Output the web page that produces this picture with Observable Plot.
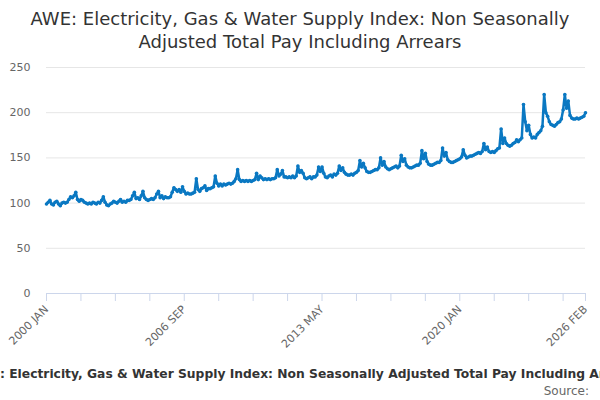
<!DOCTYPE html>
<html><head><meta charset="utf-8">
<script src="https://cdn.jsdelivr.net/npm/d3@7"></script>
<script src="https://cdn.jsdelivr.net/npm/@observablehq/plot@0.6"></script>
<style>
body{margin:0;width:600px;height:400px;overflow:hidden;font-family:"DejaVu Sans",sans-serif;background:#fff;position:relative}
#title{text-align:center;font-size:18px;color:#333;line-height:23px;padding-top:7px;height:43px}
#chart{height:322px}
#cap{position:absolute;left:0px;top:366px;width:800px;white-space:nowrap;font-size:12.3px;font-weight:bold;color:#333;line-height:16px}
#src{position:absolute;right:11px;top:384px;font-size:12px;color:#666;line-height:14px}
</style></head><body>
<div id="title">AWE: Electricity, Gas &amp; Water Supply Index: Non Seasonally<br>Adjusted Total Pay Including Arrears</div>
<div id="chart"></div>
<div id="cap">: Electricity, Gas &amp; Water Supply Index: Non Seasonally Adjusted Total Pay Including Arrears</div>
<div id="src">Source:</div>
<script>
const startYear = 2000;
const y2000 = [99,101,103,99,98,101,102,99,97,100,101,100];
const y2001 = [101,104,107,106,108,112,104,102,104,103,101,100];
const y2002 = [99,100,99,101,100,99,101,100,103,107,101,98];
const y2003 = [97,99,100,102,101,100,102,104,101,102,101,103];
const y2004 = [103,104,108,112,105,106,104,108,113,106,104,103];
const y2005 = [104,105,104,106,110,113,106,108,105,107,106,106];
const y2006 = [107,112,117,115,113,115,112,118,113,110,111,110];
const y2007 = [110,111,112,127,115,113,116,117,119,114,116,116];
const y2008 = [117,118,130,122,119,121,119,121,120,121,122,121];
const y2009 = [122,124,127,137,126,124,125,124,125,124,125,124];
const y2010 = [125,126,133,126,130,128,126,127,126,127,126,127];
const y2011 = [127,128,137,130,132,136,129,129,128,129,128,130];
const y2012 = [128,130,141,134,136,133,128,127,128,129,127,129];
const y2013 = [129,131,140,135,140,133,129,128,130,131,129,132];
const y2014 = [131,133,141,136,139,134,132,131,131,132,131,133];
const y2015 = [134,136,147,140,144,139,135,134,134,135,136,137];
const y2016 = [137,139,150,142,146,140,138,137,138,139,140,141];
const y2017 = [139,141,153,146,149,142,140,139,139,140,141,142];
const y2018 = [142,144,158,149,155,146,143,142,142,143,144,145];
const y2019 = [145,147,161,152,156,148,146,145,145,146,147,148];
const y2020 = [149,151,159,153,150,151,152,152,153,154,155,156];
const y2021 = [155,157,166,159,162,157,156,157,156,158,160,161];
const y2022 = [182,166,172,166,164,163,164,166,167,170,168,170];
const y2023 = [172,209,190,180,186,176,172,173,172,176,178,180];
const y2024 = [185,220,200,196,190,187,186,185,187,189,190,193];
const y2025 = [203,220,205,213,197,194,193,193,194,193,194,195];
const y2026 = [196,200];
const allYears = [y2000,y2001,y2002,y2003,y2004,y2005,y2006,y2007,y2008,y2009,y2010,y2011,y2012,y2013,y2014,y2015,y2016,y2017,y2018,y2019,y2020,y2021,y2022,y2023,y2024,y2025,y2026];
const months = ["JAN","FEB","MAR","APR","MAY","JUN","JUL","AUG","SEP","OCT","NOV","DEC"];
const data = allYears.flatMap((vals,yi)=>vals.map((v,mi)=>({i:yi*12+mi,v})));
const last = data.length-1;
const ticks = d3.range(0,last,20).concat([last]);
const labelled = new Set([0,80,160,240,last]);
const fmt = i => labelled.has(i) ? `${startYear+Math.floor(i/12)} ${months[i%12]}` : "";
const chart = Plot.plot({
  width:600,height:322,marginTop:17,marginBottom:79,marginLeft:46,marginRight:15,
  style:{fontFamily:"DejaVu Sans",fontSize:"11px",color:"#666"},
  x:{domain:[0,last],label:null},
  y:{domain:[0,250],label:null},
  marks:[
    Plot.gridY([0,50,100,150,200,250],{stroke:"#e6e6e6",strokeOpacity:1}),
    Plot.axisY([0,50,100,150,200,250],{tickSize:0,tickPadding:16,color:"#666",fontSize:11}),
    Plot.ruleY([0],{stroke:"#ccd6eb"}),
    Plot.axisX({ticks,tickFormat:fmt,tickRotate:-45,tickSize:8,tickPadding:6,stroke:"#ccd6eb",color:"#666",fontSize:11}),
    Plot.line(data,{x:"i",y:"v",stroke:"#0a78c2",strokeWidth:2.5}),
    Plot.dot(data,{x:"i",y:"v",fill:"#0a78c2",r:1.8})
  ]
});
document.getElementById("chart").appendChild(chart);
</script></body></html>
